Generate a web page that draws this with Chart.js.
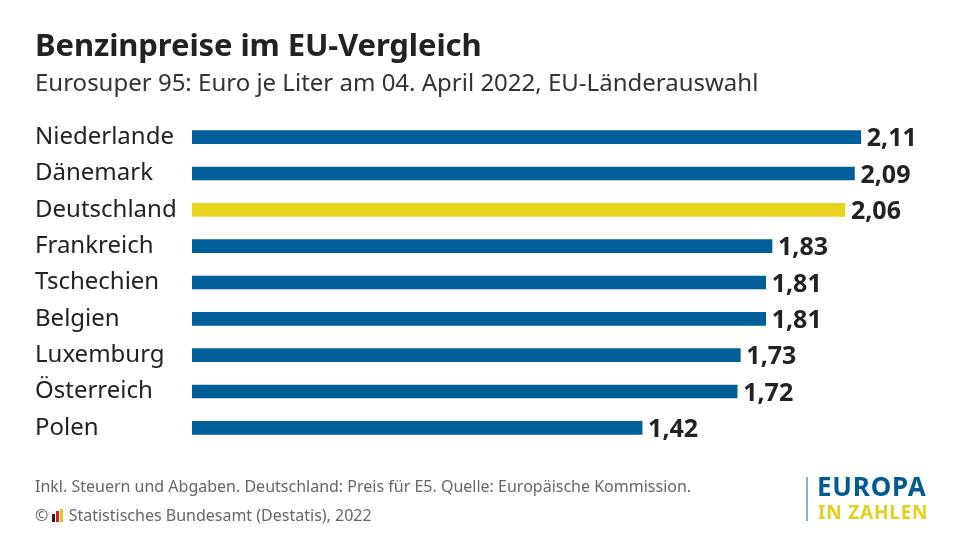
<!DOCTYPE html>
<html><head><meta charset="utf-8">
<script src="https://cdn.jsdelivr.net/npm/chart.js@4"></script>
<style>
html,body{margin:0;padding:0;background:#fff;width:960px;height:540px;overflow:hidden;font-family:"Noto Sans",sans-serif;}
#wrap{position:relative;width:960px;height:540px;}
canvas{position:absolute;left:0;top:0;}
.t{position:absolute;white-space:nowrap;color:#222;}
#title{left:35px;top:23px;font-size:31px;font-weight:700;letter-spacing:-0.1px;}
#sub{left:35px;top:65px;font-size:24px;color:#333;}
#f1{left:35px;top:475px;font-size:16px;color:#666;}
#f2{left:35px;top:504px;font-size:16px;color:#666;}
#logoLine{position:absolute;left:806px;top:477px;width:2px;height:44px;background:#7fb2d6;}
#eu{left:817px;top:468px;font-size:26px;font-weight:700;color:#005a94;letter-spacing:0.8px;}
#iz{left:818px;top:499px;font-size:19px;font-weight:700;color:#e6cf1c;letter-spacing:0.8px;}
.ic{display:inline-block;width:3px;vertical-align:-1px;margin-right:1px;}
</style></head>
<body><div id="wrap">
<canvas id="c" width="960" height="540"></canvas>
<div class="t" id="title">Benzinpreise im EU-Vergleich</div>
<div class="t" id="sub">Eurosuper 95: Euro je Liter am 04. April 2022, EU-Länderauswahl</div>
<div class="t" id="f1">Inkl. Steuern und Abgaben. Deutschland: Preis für E5. Quelle: Europäische Kommission.</div>
<div class="t" id="f2">© <span class="ic" style="height:8px;background:#222"></span><span class="ic" style="height:11px;background:#d62020"></span><span class="ic" style="height:13px;background:#e6c21c"></span> Statistisches Bundesamt (Destatis), 2022</div>
<div id="logoLine"></div>
<div class="t" id="eu">EUROPA</div>
<div class="t" id="iz">IN ZAHLEN</div>
</div>
<script>
const categories = ["Niederlande","Dänemark","Deutschland","Frankreich","Tschechien","Belgien","Luxemburg","Österreich","Polen"];
const prices = [2.11, 2.09, 2.06, 1.83, 1.81, 1.81, 1.73, 1.72, 1.42];
const highlight = "Deutschland";

const blue = "#005f99", yellow = "#e8d31f";
const colors = categories.map(c => c === highlight ? yellow : blue);

const valueLabels = {
  id: "valueLabels",
  afterDatasetsDraw(chart) {
    const ctx = chart.ctx;
    const meta = chart.getDatasetMeta(0);
    ctx.save();
    ctx.font = "bold 25px 'Noto Sans', sans-serif";
    ctx.fillStyle = "#222";
    ctx.textBaseline = "middle";
    ctx.textAlign = "left";
    meta.data.forEach((bar, i) => {
      ctx.fillText(prices[i].toFixed(2).replace(".", ","), bar.x + 6, bar.y + 2);
    });
    ctx.restore();
  }
};

new Chart(document.getElementById("c"), {
  type: "bar",
  data: { labels: categories, datasets: [{ data: prices, backgroundColor: colors, barThickness: 13, borderWidth: 0 }] },
  options: {
    indexAxis: "y",
    responsive: false,
    animation: false,
    layout: { padding: { left: 35, right: 39, top: 119, bottom: 94 } },
    plugins: { legend: { display: false }, tooltip: { enabled: false } },
    scales: {
      x: { display: false, min: 0, max: 2.3 },
      y: {
        grid: { display: false, drawTicks: false },
        border: { display: false },
        ticks: { crossAlign: "far", padding: 0, color: "#222", font: { family: "'Noto Sans', sans-serif", size: 24 } },
        afterFit(scale) { scale.width = 157; }
      }
    }
  },
  plugins: [valueLabels]
});
</script>
</body></html>
